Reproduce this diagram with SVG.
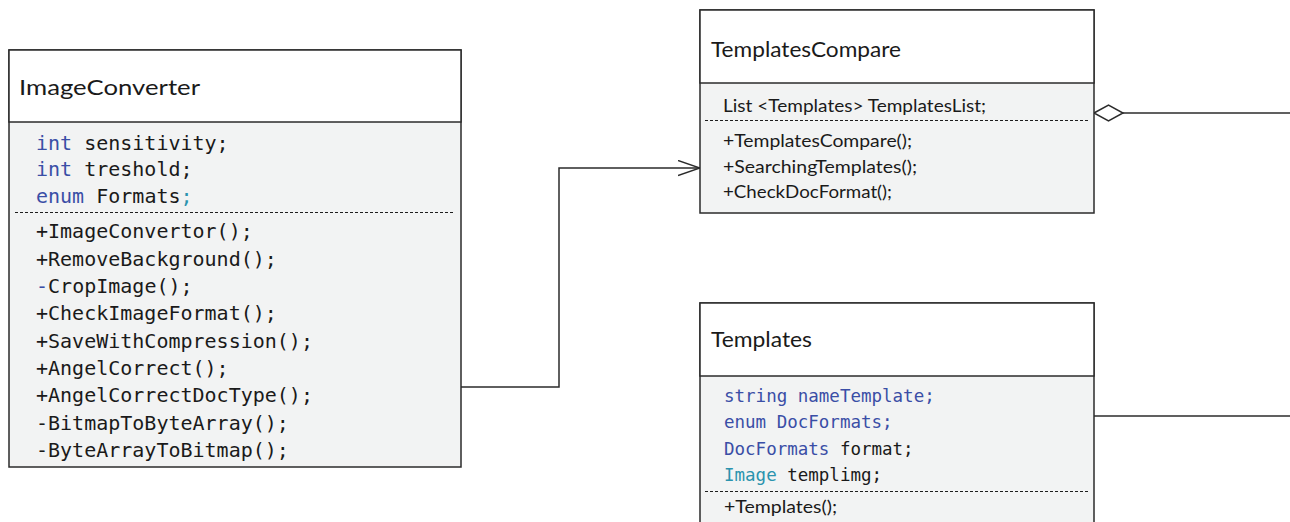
<svg xmlns="http://www.w3.org/2000/svg" width="1290" height="522" viewBox="0 0 1290 522">
<defs>
<style>
.box{fill:#f2f3f3;stroke:#2b2b2b;stroke-width:1.5}
.head{fill:#ffffff;stroke:#2b2b2b;stroke-width:1.5}
.dash{stroke:#1e1e1e;stroke-width:1;stroke-dasharray:3 2;fill:none}
.title{font-family:Lato,"Open Sans","Liberation Sans",sans-serif;font-size:22px;fill:#1a1a1a}
.cal{font-family:Lato,"Open Sans","Liberation Sans",sans-serif;font-size:17px;fill:#1a1a1a}
.mono{font-family:"DejaVu Sans Mono","Liberation Mono",monospace;font-size:20px;fill:#1a1a1a}
.mono2{font-family:"DejaVu Sans Mono","Liberation Mono",monospace;font-size:17.5px;fill:#1a1a1a}
.kw{fill:#3a4ea6}
.ty{fill:#2b93ae}
.conn{stroke:#2b2b2b;stroke-width:1.5;fill:none}
</style>
<marker id="open" markerWidth="24" markerHeight="18" refX="22" refY="8" orient="auto" markerUnits="userSpaceOnUse">
<path d="M0,0.5 L22,8 L0,15.5" fill="none" stroke="#2b2b2b" stroke-width="1.5"/>
</marker>
</defs>
<rect width="1290" height="522" fill="#ffffff"/>

<g id="connectors">
<path class="conn" d="M461,387 H559 V168 H700" marker-end="url(#open)"/>
<path class="conn" d="M1094,113 L1108.5,105 L1123,113 L1108.5,121 Z" fill="#ffffff"/>
<line class="conn" x1="1123" y1="113" x2="1290" y2="113"/>
<line class="conn" x1="1094" y1="416" x2="1290" y2="416"/>
</g>

<g id="ImageConverter">
<rect class="box" x="9" y="50" width="452" height="417"/>
<rect class="head" x="9" y="50" width="452" height="72"/>
<text class="title" x="19" y="95" textLength="181" lengthAdjust="spacingAndGlyphs">ImageConverter</text>
<text class="mono" x="36" y="150"><tspan class="kw">int</tspan> sensitivity;</text>
<text class="mono" x="36" y="176"><tspan class="kw">int</tspan> treshold;</text>
<text class="mono" x="36" y="203"><tspan class="kw">enum</tspan> Formats<tspan class="ty">;</tspan></text>
<line class="dash" x1="15" y1="212.5" x2="455" y2="212.5"/>
<text class="mono" x="36" y="238">+ImageConvertor();</text>
<text class="mono" x="36" y="266">+RemoveBackground();</text>
<text class="mono" x="36" y="293"><tspan class="kw">-</tspan>CropImage();</text>
<text class="mono" x="36" y="320">+CheckImageFormat();</text>
<text class="mono" x="36" y="348">+SaveWithCompression();</text>
<text class="mono" x="36" y="375">+AngelCorrect();</text>
<text class="mono" x="36" y="402">+AngelCorrectDocType();</text>
<text class="mono" x="36" y="430">-BitmapToByteArray();</text>
<text class="mono" x="36" y="457">-ByteArrayToBitmap();</text>
</g>

<g id="TemplatesCompare">
<rect class="box" x="700" y="10" width="394" height="203"/>
<rect class="head" x="700" y="10" width="394" height="73"/>
<text class="title" x="711" y="57" textLength="190" lengthAdjust="spacingAndGlyphs">TemplatesCompare</text>
<text class="cal" x="723" y="112" textLength="263" lengthAdjust="spacingAndGlyphs">List &lt;Templates&gt; TemplatesList;</text>
<line class="dash" x1="705" y1="120.5" x2="1088" y2="120.5"/>
<text class="cal" x="723" y="147" textLength="189" lengthAdjust="spacingAndGlyphs">+TemplatesCompare();</text>
<text class="cal" x="723" y="173" textLength="194" lengthAdjust="spacingAndGlyphs">+SearchingTemplates();</text>
<text class="cal" x="723" y="198" textLength="169" lengthAdjust="spacingAndGlyphs">+CheckDocFormat();</text>
</g>

<g id="Templates">
<rect class="box" x="700" y="303" width="394" height="240"/>
<rect class="head" x="700" y="303" width="394" height="73"/>
<text class="title" x="711" y="347" textLength="101" lengthAdjust="spacingAndGlyphs">Templates</text>
<text class="mono2" x="724" y="402"><tspan class="kw">string nameTemplate;</tspan></text>
<text class="mono2" x="724" y="428"><tspan class="kw">enum DocFormats;</tspan></text>
<text class="mono2" x="724" y="455"><tspan class="kw">DocFormats</tspan> format;</text>
<text class="mono2" x="724" y="481"><tspan class="ty">Image</tspan> templimg;</text>
<line class="dash" x1="705" y1="491.5" x2="1088" y2="491.5"/>
<text class="cal" x="724" y="513" textLength="113" lengthAdjust="spacingAndGlyphs">+Templates();</text>
</g>
</svg>
